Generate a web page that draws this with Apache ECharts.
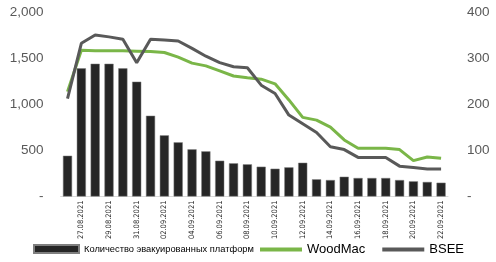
<!DOCTYPE html>
<html>
<head>
<meta charset="utf-8">
<script src="https://cdn.jsdelivr.net/npm/echarts@6/dist/echarts.min.js"></script>
<style>
html,body{margin:0;padding:0;background:#fff;}
#chart{width:496px;height:262px;}
</style>
</head>
<body>
<div id="chart"></div>
<script>
const dates = ['26.08.2021','27.08.2021','28.08.2021','29.08.2021','30.08.2021','31.08.2021','01.09.2021','02.09.2021','03.09.2021','04.09.2021','05.09.2021','06.09.2021','07.09.2021','08.09.2021','09.09.2021','10.09.2021','11.09.2021','12.09.2021','13.09.2021','14.09.2021','15.09.2021','16.09.2021','17.09.2021','18.09.2021','19.09.2021','20.09.2021','21.09.2021','22.09.2021'];
const platforms = [443,1393,1443,1443,1393,1248,878,665,589,513,491,389,361,350,324,302,317,367,187,179,215,201,201,201,179,165,158,150];
const woodMac = [228,318,317,317,317,316,315,313,303,290,284,273,262,258,255,245,210,172,166,151,123,105,105,105,102,78,86,83];
const bsee = [213,333,351,347,342,291,342,340,338,322,305,291,282,280,242,224,177,158,139,108,102,85,85,85,66,63,60,60];
const leftTicks = [0,500,1000,1500,2000];
const rightTicks = [0,100,200,300,400];

const narrow = "'DejaVu Sans Condensed','DejaVu Sans',sans-serif";
const regular = "'Liberation Sans',Arial,sans-serif";
const chart = echarts.init(document.getElementById('chart'), null, {renderer:'canvas'});
const fmt = v => v === 0 ? '-' : v.toLocaleString('en-US');
chart.setOption({
  animation:false,
  backgroundColor:'#ffffff',
  grid:{left:60.6,right:48,top:12.5,bottom:65.5,containLabel:false},
  legend:[
    {data:[{name:'Количество эвакуированных платформ',icon:'rect'}],left:28,top:239,itemWidth:45,itemHeight:8,
     textStyle:{fontFamily:regular,fontSize:9.3,color:'#000'}},
    {data:[{name:'WoodMac',icon:'rect'},{name:'BSEE',icon:'rect'}],left:255,top:238,itemWidth:42,itemHeight:4,itemGap:17,
     textStyle:{fontFamily:regular,fontSize:13,color:'#000'}}
  ],
  xAxis:{type:'category',data:dates,
    axisLine:{lineStyle:{color:'#d9d9d9',width:1}},axisTick:{show:false},
    axisLabel:{rotate:90,interval:(i)=>i%2===1,fontFamily:narrow,fontSize:7.5,color:'#262626',margin:4}},
  yAxis:[
    {type:'value',min:leftTicks[0],max:leftTicks[leftTicks.length-1],interval:500,splitLine:{show:false},
     axisLine:{show:false},axisTick:{show:false},
     axisLabel:{formatter:fmt,fontFamily:regular,fontSize:13.5,color:'#595959',margin:17}},
    {type:'value',min:rightTicks[0],max:rightTicks[rightTicks.length-1],interval:100,splitLine:{show:false},
     axisLine:{show:false},axisTick:{show:false},
     axisLabel:{formatter:fmt,fontFamily:regular,fontSize:13.5,color:'#595959',margin:19}}
  ],
  series:[
    {name:'Количество эвакуированных платформ',type:'bar',data:platforms,yAxisIndex:0,barWidth:'66%',
     itemStyle:{color:'#262626',borderColor:'#7f7f7f',borderWidth:0.5}},
    {name:'WoodMac',type:'line',data:woodMac,yAxisIndex:1,symbol:'none',z:3,
     lineStyle:{color:'#7ab648',width:3},itemStyle:{color:'#7ab648'}},
    {name:'BSEE',type:'line',data:bsee,yAxisIndex:1,symbol:'none',z:4,
     lineStyle:{color:'#595959',width:3},itemStyle:{color:'#595959'}}
  ]
});
</script>
</body>
</html>
